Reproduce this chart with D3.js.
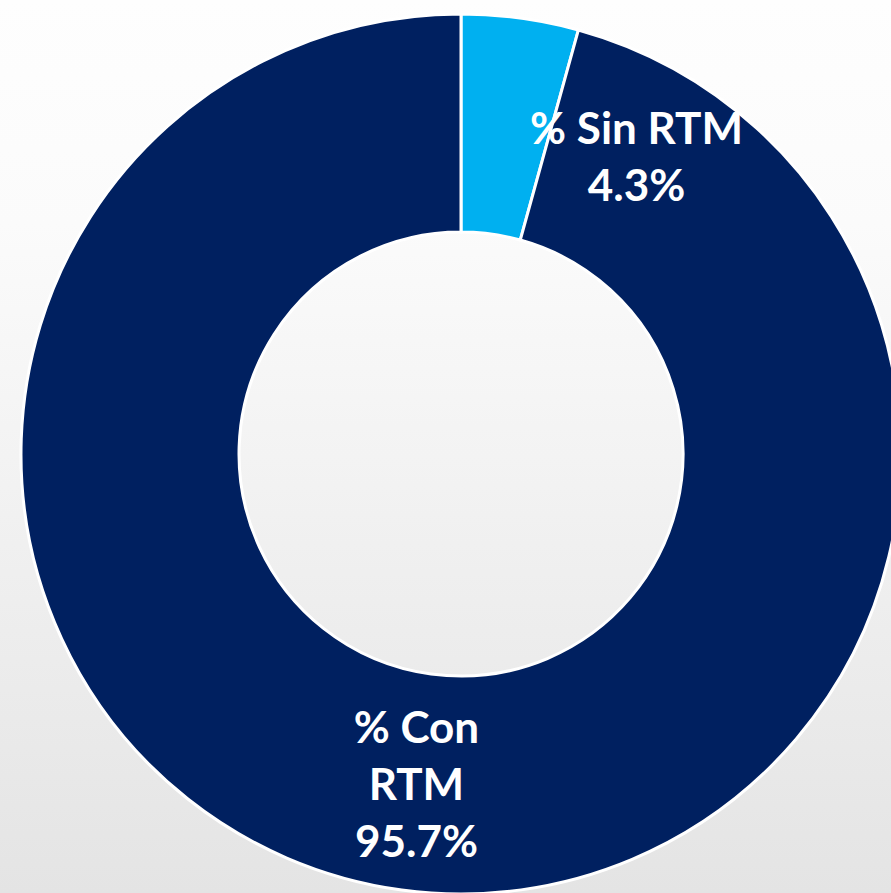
<!DOCTYPE html>
<html>
<head>
<meta charset="utf-8">
<script src="https://cdn.jsdelivr.net/npm/d3@7"></script>
<style>
  html, body { margin: 0; padding: 0; }
  body { width: 891px; height: 893px; overflow: hidden; }
</style>
</head>
<body>
<svg id="chart" width="891" height="893"></svg>
<script>
// doughnut: share of cases with / without RTM
const categories = ['% Sin RTM', '% Con RTM'];
const values = [4.3, 95.7];
const labelLines = [['% Sin RTM', '4.3%'], ['% Con', 'RTM', '95.7%']];
const colors = ['#00B0F0', '#002060'];
// the small-slice label was dragged off the centroid in the original
const labelShift = [[131, 31], [0, 3]];

const W = 891, H = 893;
const cx = 461, cy = 454;
const outerR = 440, innerR = 222;

const svg = d3.select('#chart');

const defs = svg.append('defs');
const grad = defs.append('linearGradient')
  .attr('id', 'bg').attr('x1', 0).attr('y1', 0).attr('x2', 0).attr('y2', 1);
grad.append('stop').attr('offset', '0%').attr('stop-color', '#fefefe');
grad.append('stop').attr('offset', '25%').attr('stop-color', '#fbfbfb');
grad.append('stop').attr('offset', '100%').attr('stop-color', '#e4e4e4');

svg.append('rect').attr('width', W).attr('height', H).attr('fill', 'url(#bg)');

const pie = d3.pie().sort(null).value(d => d);
const arc = d3.arc().innerRadius(innerR).outerRadius(outerR);
const arcs = pie(values);

const g = svg.append('g').attr('transform', `translate(${cx},${cy})`);

g.selectAll('path.slice')
  .data(arcs)
  .join('path')
  .attr('class', 'slice')
  .attr('d', arc)
  .attr('fill', (d, i) => colors[i])
  .attr('stroke', '#ffffff')
  .attr('stroke-width', 3)
  .attr('stroke-linejoin', 'round');

// --- data labels ---
const lineH = 57;
g.selectAll('text.lbl')
  .data(arcs)
  .join('text')
  .attr('class', 'lbl')
  .attr('font-family', 'Lato, "Open Sans", sans-serif')
  .attr('font-weight', 700)
  .attr('font-size', 44)
  .attr('fill', '#ffffff')
  .attr('text-anchor', 'middle')
  .each(function(d, i){
    const [x, y] = arc.centroid(d);
    const lines = labelLines[i];
    const px = x + labelShift[i][0];
    const top = y + labelShift[i][1] - (lines.length - 1) * lineH / 2;
    d3.select(this).selectAll('tspan')
      .data(lines)
      .join('tspan')
      .attr('x', px)
      .attr('y', (l, k) => top + k * lineH + 15)
      .text(l => l);
  });
</script>
</body>
</html>
